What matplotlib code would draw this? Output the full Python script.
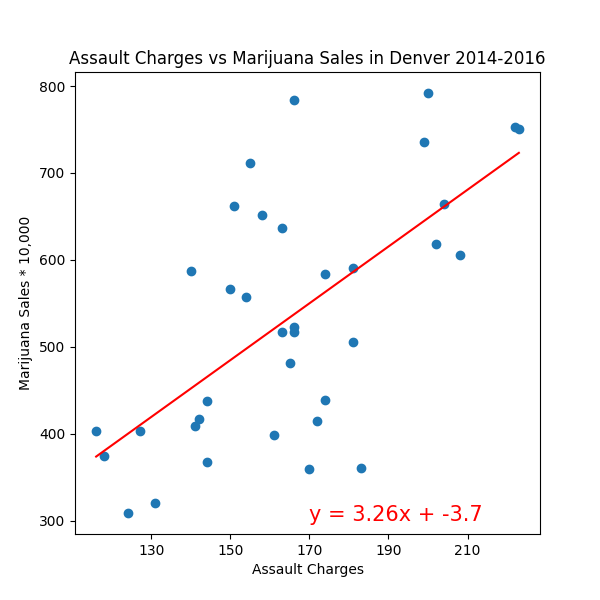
import matplotlib
matplotlib.use("Agg")
import matplotlib.pyplot as plt
import numpy as np

assault = [116,118,124,127,131,140,141,142,144,144,150,151,154,155,158,161,163,163,165,166,166,166,170,172,174,174,181,181,183,199,200,202,204,208,222,223]
sales = [403,374,309,403,320,587,409,417,438,368,567,662,557,711,652,399,637,517,482,784,523,517,360,415,584,439,591,506,361,736,792,618,664,606,753,751]
eq_label = "y = 3.26x + -3.7"

x = np.array(assault, float); y = np.array(sales, float)
m, b = np.polyfit(x, y, 1)

fig, ax = plt.subplots(figsize=(6, 6), dpi=100)
ax.scatter(x, y)
ax.plot(x, m * x + b, "r-")
ax.annotate(eq_label, (170, 300), fontsize=15, color="red")
ax.set_xticks(np.arange(130, 211, 20))
ax.set_title("Assault Charges vs Marijuana Sales in Denver 2014-2016")
ax.set_xlabel("Assault Charges")
ax.set_ylabel("Marijuana Sales * 10,000")
fig.savefig("out.png")
